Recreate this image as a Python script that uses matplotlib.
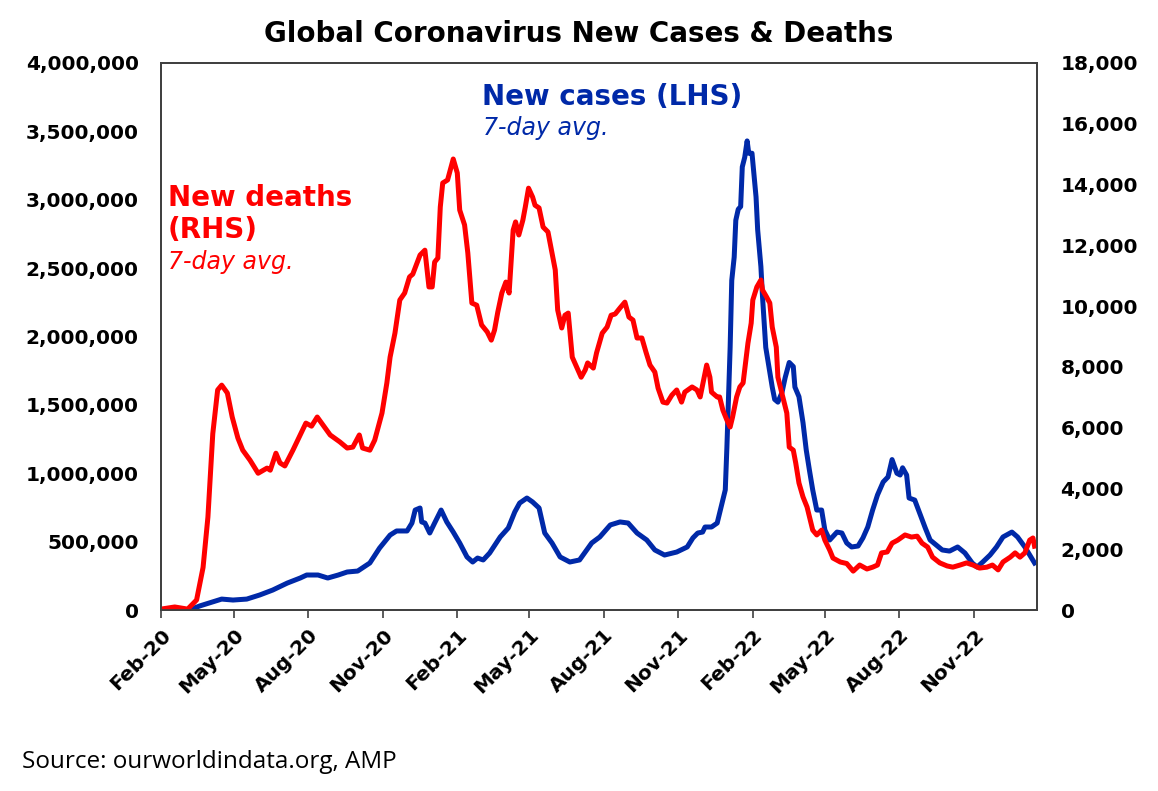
import numpy as np
import pandas as pd
import matplotlib
matplotlib.use('Agg')
import matplotlib.pyplot as plt
from matplotlib.ticker import FuncFormatter

# Data (7-day averages)
case_dates = ['2020-02-01', '2020-03-08', '2020-03-20', '2020-04-04', '2020-04-16', '2020-04-30',
              '2020-05-17', '2020-06-02', '2020-06-18', '2020-07-06', '2020-07-22', '2020-07-30',
              '2020-08-13', '2020-08-25', '2020-09-07', '2020-09-18', '2020-10-01', '2020-10-16',
              '2020-10-28', '2020-11-10', '2020-11-18', '2020-12-01', '2020-12-07', '2020-12-11',
              '2020-12-17', '2020-12-19', '2020-12-23', '2020-12-29', '2021-01-04', '2021-01-12',
              '2021-01-19', '2021-01-27', '2021-02-04', '2021-02-13', '2021-02-20', '2021-02-26',
              '2021-03-05', '2021-03-13', '2021-03-26', '2021-04-05', '2021-04-13', '2021-04-19',
              '2021-04-28', '2021-05-05', '2021-05-13', '2021-05-20', '2021-05-29', '2021-06-08',
              '2021-06-20', '2021-07-02', '2021-07-17', '2021-07-27', '2021-08-09', '2021-08-21',
              '2021-08-31', '2021-09-11', '2021-09-23', '2021-10-03', '2021-10-15', '2021-10-30',
              '2021-11-12', '2021-11-19', '2021-11-25', '2021-12-01', '2021-12-04', '2021-12-12',
              '2021-12-19', '2021-12-25', '2021-12-29', '2021-12-31', '2022-01-02', '2022-01-04',
              '2022-01-06', '2022-01-09', '2022-01-11', '2022-01-14', '2022-01-17', '2022-01-19',
              '2022-01-22', '2022-01-25', '2022-01-27', '2022-01-31', '2022-02-05', '2022-02-07',
              '2022-02-11', '2022-02-13', '2022-02-17', '2022-02-20', '2022-02-25', '2022-02-28',
              '2022-03-04', '2022-03-09', '2022-03-13', '2022-03-18', '2022-03-23', '2022-03-25',
              '2022-03-30', '2022-04-04', '2022-04-08', '2022-04-12', '2022-04-16', '2022-04-21',
              '2022-04-27', '2022-05-01', '2022-05-07', '2022-05-16', '2022-05-22', '2022-05-28',
              '2022-06-03', '2022-06-11', '2022-06-17', '2022-06-23', '2022-06-29', '2022-07-05',
              '2022-07-12', '2022-07-18', '2022-07-23', '2022-07-29', '2022-08-02', '2022-08-05',
              '2022-08-10', '2022-08-13', '2022-08-20', '2022-08-26', '2022-09-02', '2022-09-08',
              '2022-09-14', '2022-09-23', '2022-10-02', '2022-10-12', '2022-10-21', '2022-10-30',
              '2022-11-05', '2022-11-12', '2022-11-21', '2022-11-29', '2022-12-07', '2022-12-18',
              '2022-12-25', '2023-01-03', '2023-01-09', '2023-01-15']
new_cases = [0, 2000, 30000, 58000, 80000, 73000,
             80000, 110000, 146000, 197000, 234000, 256000,
             256000, 234000, 256000, 278000, 285000, 344000,
             453000, 548000, 578000, 578000, 636000, 731000,
             746000, 644000, 636000, 563000, 636000, 731000,
             644000, 570000, 490000, 388000, 351000, 380000,
             366000, 417000, 534000, 600000, 717000, 782000,
             819000, 790000, 746000, 563000, 490000, 388000,
             351000, 366000, 490000, 534000, 622000, 644000,
             636000, 563000, 512000, 439000, 402000, 424000,
             461000, 527000, 563000, 570000, 607000, 607000,
             636000, 782000, 878000, 1190000, 1560000, 1920000,
             2410000, 2580000, 2850000, 2930000, 2950000, 3240000,
             3310000, 3430000, 3340000, 3340000, 3020000, 2780000,
             2510000, 2290000, 1920000, 1810000, 1630000, 1540000,
             1520000, 1590000, 1700000, 1810000, 1780000, 1630000,
             1560000, 1370000, 1170000, 1020000, 878000, 731000,
             731000, 585000, 512000, 570000, 563000, 490000,
             461000, 468000, 527000, 607000, 731000, 841000,
             936000, 973000, 1100000, 1000000, 987000, 1040000,
             987000, 819000, 804000, 709000, 600000, 512000,
             483000, 439000, 431000, 461000, 417000, 344000,
             314000, 351000, 402000, 461000, 534000, 570000,
             534000, 461000, 402000, 344000]

death_dates = ['2020-02-01', '2020-02-18', '2020-03-05', '2020-03-16', '2020-03-24', '2020-03-30',
               '2020-04-05', '2020-04-11', '2020-04-16', '2020-04-23', '2020-04-29', '2020-05-06',
               '2020-05-12', '2020-05-21', '2020-05-31', '2020-06-11', '2020-06-15', '2020-06-22',
               '2020-06-27', '2020-07-03', '2020-07-13', '2020-07-22', '2020-07-29', '2020-08-05',
               '2020-08-12', '2020-08-19', '2020-08-28', '2020-09-09', '2020-09-18', '2020-09-25',
               '2020-10-03', '2020-10-07', '2020-10-16', '2020-10-22', '2020-10-31', '2020-11-06',
               '2020-11-10', '2020-11-16', '2020-11-22', '2020-11-28', '2020-12-04', '2020-12-08',
               '2020-12-17', '2020-12-23', '2020-12-28', '2021-01-01', '2021-01-04', '2021-01-08',
               '2021-01-11', '2021-01-14', '2021-01-20', '2021-01-27', '2021-02-01', '2021-02-04',
               '2021-02-10', '2021-02-14', '2021-02-19', '2021-02-25', '2021-03-03', '2021-03-10',
               '2021-03-15', '2021-03-19', '2021-03-23', '2021-03-28', '2021-04-02', '2021-04-06',
               '2021-04-11', '2021-04-14', '2021-04-18', '2021-04-23', '2021-04-26', '2021-04-30',
               '2021-05-05', '2021-05-08', '2021-05-13', '2021-05-18', '2021-05-24', '2021-05-29',
               '2021-06-02', '2021-06-05', '2021-06-10', '2021-06-14', '2021-06-18', '2021-06-23',
               '2021-06-29', '2021-07-04', '2021-07-09', '2021-07-12', '2021-07-19', '2021-07-23',
               '2021-07-30', '2021-08-05', '2021-08-10', '2021-08-15', '2021-08-21', '2021-08-27',
               '2021-09-01', '2021-09-06', '2021-09-11', '2021-09-17', '2021-09-22', '2021-09-27',
               '2021-10-03', '2021-10-07', '2021-10-13', '2021-10-18', '2021-10-24', '2021-10-30',
               '2021-11-05', '2021-11-09', '2021-11-18', '2021-11-24', '2021-11-28', '2021-12-01',
               '2021-12-06', '2021-12-10', '2021-12-12', '2021-12-19', '2021-12-22', '2021-12-26',
               '2021-12-31', '2022-01-04', '2022-01-07', '2022-01-12', '2022-01-16', '2022-01-20',
               '2022-01-23', '2022-01-26', '2022-01-30', '2022-02-01', '2022-02-06', '2022-02-11',
               '2022-02-13', '2022-02-18', '2022-02-22', '2022-02-25', '2022-03-02', '2022-03-04',
               '2022-03-10', '2022-03-15', '2022-03-18', '2022-03-23', '2022-03-26', '2022-03-30',
               '2022-04-04', '2022-04-09', '2022-04-12', '2022-04-16', '2022-04-21', '2022-04-27',
               '2022-05-01', '2022-05-07', '2022-05-11', '2022-05-20', '2022-05-28', '2022-06-05',
               '2022-06-13', '2022-06-22', '2022-06-29', '2022-07-05', '2022-07-10', '2022-07-17',
               '2022-07-23', '2022-07-30', '2022-08-08', '2022-08-16', '2022-08-23', '2022-08-29',
               '2022-09-05', '2022-09-11', '2022-09-20', '2022-09-29', '2022-10-06', '2022-10-15',
               '2022-10-23', '2022-10-31', '2022-11-08', '2022-11-17', '2022-11-24', '2022-12-01',
               '2022-12-07', '2022-12-16', '2022-12-22', '2022-12-28', '2023-01-03', '2023-01-09',
               '2023-01-13', '2023-01-15']
new_deaths = [30, 100, 30, 330, 1400, 3060,
              5800, 7240, 7400, 7140, 6350, 5660,
              5260, 4930, 4500, 4670, 4600, 5160,
              4840, 4740, 5260, 5760, 6150, 6050,
              6350, 6090, 5760, 5530, 5330, 5360,
              5760, 5330, 5260, 5590, 6480, 7470,
              8320, 9110, 10200, 10430, 10960, 11050,
              11680, 11840, 10630, 10630, 11450, 11580,
              13260, 14050, 14150, 14840, 14380, 13160,
              12670, 11750, 10100, 10030, 9380, 9150,
              8880, 9210, 9800, 10430, 10790, 10430,
              12500, 12770, 12340, 12830, 13260, 13880,
              13590, 13320, 13230, 12600, 12440, 11750,
              11190, 9870, 9280, 9700, 9770, 8320,
              7960, 7660, 7900, 8130, 7960, 8460,
              9110, 9310, 9700, 9740, 9940, 10130,
              9640, 9540, 8950, 8950, 8490, 8060,
              7830, 7300, 6840, 6810, 7070, 7240,
              6840, 7170, 7340, 7240, 7010, 7400,
              8060, 7660, 7170, 7010, 7010, 6580,
              6250, 6020, 6350, 7010, 7340, 7470,
              8130, 8780, 9440, 10200, 10630, 10860,
              10530, 10300, 10100, 9310, 8650, 7660,
              7010, 6480, 5360, 5260, 4840, 4180,
              3720, 3390, 3060, 2630, 2470, 2630,
              2300, 1970, 1710, 1580, 1530, 1280,
              1480, 1350, 1410, 1480, 1880, 1910,
              2200, 2300, 2470, 2400, 2430, 2200,
              2070, 1740, 1550, 1450, 1410, 1480,
              1550, 1480, 1380, 1410, 1480, 1320,
              1580, 1740, 1880, 1740, 1880, 2300,
              2370, 2100]

tick_dates = pd.date_range('2020-02-01', '2022-11-01', freq='3MS')

blue = '#0029A8'
red = '#FF0000'
plt.rcParams['font.family'] = ['DejaVu Sans']

fig = plt.figure(figsize=(11.58, 7.91), dpi=100)
ax = fig.add_axes([0.139, 0.2288, 0.7565, 0.6916])
ax2 = ax.twinx()

ax.plot(pd.to_datetime(case_dates), new_cases, color=blue, lw=3.6, solid_joinstyle='round')
ax2.plot(pd.to_datetime(death_dates), new_deaths, color=red, lw=3.6, solid_joinstyle='round')

ax.set_xlim(pd.Timestamp('2020-02-01'), pd.Timestamp('2023-01-18'))
ax.set_ylim(0, 4000000)
ax2.set_ylim(0, 18000)
ax.set_yticks(np.arange(0, 4000001, 500000))
ax2.set_yticks(np.arange(0, 18001, 2000))
comma = FuncFormatter(lambda v, p: f'{int(v):,}')
ax.yaxis.set_major_formatter(comma)
ax2.yaxis.set_major_formatter(comma)

ax.set_xticks(tick_dates)
ax.set_xticklabels([d.strftime('%b-%y') for d in tick_dates], rotation=45, ha='right',
                   rotation_mode='anchor', fontsize=14.5, fontweight='bold')
ax.tick_params(axis='x', direction='out', length=6, width=1.2, color='#404040', pad=5)
ax.tick_params(axis='y', length=0, pad=16, labelsize=14.5)
ax2.tick_params(axis='y', length=0, pad=17, labelsize=14.5)
for lab in ax.get_yticklabels() + ax2.get_yticklabels():
    lab.set_fontweight('bold')

for a in (ax, ax2):
    for s in a.spines.values():
        s.set_color('#404040')
        s.set_linewidth(1.3)

fig.text(0.5, 0.957, 'Global Coronavirus New Cases & Deaths', ha='center', va='center',
         fontsize=20, fontweight='bold')

ax.text(0.366, 0.938, 'New cases (LHS)', transform=ax.transAxes, color=blue,
        fontsize=20, fontweight='bold', va='center')
ax.text(0.368, 0.881, '7-day avg.', transform=ax.transAxes, color=blue,
        fontsize=17, style='italic', va='center')
ax.text(0.008, 0.724, 'New deaths\n(RHS)', transform=ax.transAxes, color=red,
        fontsize=20, fontweight='bold', va='center', linespacing=1.2)
ax.text(0.008, 0.636, '7-day avg.', transform=ax.transAxes, color=red,
        fontsize=17, style='italic', va='center')

fig.text(0.019, 0.037, 'Source: ourworldindata.org, AMP', fontsize=17.5,
         family=['Open Sans', 'DejaVu Sans'], va='center')

fig.savefig('out.png', dpi=100)
